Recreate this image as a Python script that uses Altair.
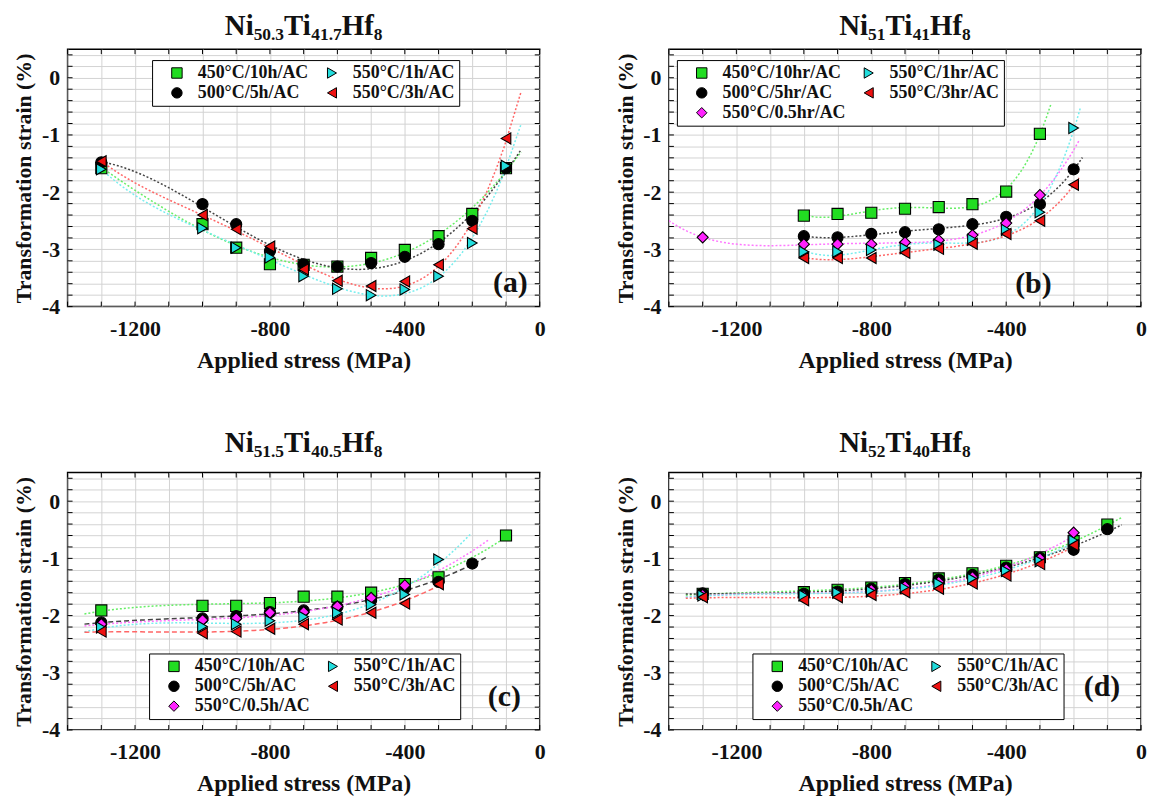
import altair as alt
import pandas as pd

FONT = "Liberation Serif"
W, H = 475, 259

# ---------------- data ----------------
A_X = [-1300, -1000, -900, -800, -700, -600, -500, -400, -300, -200, -100]
A_450 = [-1.58, -2.56, -2.97, -3.26, -3.27, -3.30, -3.15, -3.01, -2.77, -2.38, -1.58]
A_500 = [-1.48, -2.21, -2.56, -3.03, -3.26, -3.30, -3.24, -3.13, -2.91, -2.50, -1.58]
A_550_1 = [-1.60, -2.63, -2.97, -3.14, -3.47, -3.69, -3.80, -3.70, -3.47, -2.89, -1.54]
A_550_3 = [-1.46, -2.40, -2.65, -2.95, -3.35, -3.55, -3.64, -3.56, -3.27, -2.64, -1.06]

B_X_450 = [-1000, -900, -800, -700, -600, -500, -400, -300]
B_450 = [-2.41, -2.38, -2.36, -2.29, -2.26, -2.21, -1.99, -0.98]
B_X_500 = [-1000, -900, -800, -700, -600, -500, -400, -300, -200]
B_500 = [-2.77, -2.79, -2.73, -2.70, -2.65, -2.56, -2.43, -2.21, -1.60]
B_X_550_05 = [-1300, -1000, -900, -800, -700, -600, -500, -400, -300]
B_550_05 = [-2.79, -2.91, -2.91, -2.91, -2.88, -2.84, -2.75, -2.54, -2.05]
B_X_550_1 = [-1000, -900, -800, -700, -600, -500, -400, -300, -200]
B_550_1 = [-3.04, -3.04, -3.01, -2.98, -2.92, -2.83, -2.66, -2.35, -0.88]
B_X_550_3 = [-1000, -900, -800, -700, -600, -500, -400, -300, -200]
B_550_3 = [-3.15, -3.15, -3.15, -3.06, -2.99, -2.90, -2.73, -2.50, -1.87]

C_X_450 = [-1300, -1000, -900, -800, -700, -600, -500, -400, -300, -100]
C_450 = [-1.91, -1.83, -1.83, -1.78, -1.67, -1.67, -1.60, -1.45, -1.33, -0.60]
C_X_500 = [-1300, -1000, -900, -800, -700, -600, -500, -400, -300, -200]
C_500 = [-2.12, -2.05, -2.01, -1.94, -1.91, -1.85, -1.73, -1.52, -1.41, -1.09]
C_X_550_05 = [-1300, -1000, -900, -800, -700, -600, -500, -400]
C_550_05 = [-2.15, -2.08, -2.05, -1.95, -1.94, -1.84, -1.69, -1.47]
C_X_550_1 = [-1300, -1000, -900, -800, -700, -600, -500, -400, -300]
C_550_1 = [-2.21, -2.19, -2.15, -2.09, -2.02, -1.95, -1.81, -1.63, -1.02]
C_X_550_3 = [-1300, -1000, -900, -800, -700, -600, -500, -400, -300]
C_550_3 = [-2.28, -2.31, -2.28, -2.23, -2.15, -2.07, -1.95, -1.79, -1.45]

D_X_450 = [-1300, -1000, -900, -800, -700, -600, -500, -400, -300, -200, -100]
D_450 = [-1.62, -1.59, -1.55, -1.51, -1.43, -1.35, -1.26, -1.13, -0.98, -0.70, -0.41]
D_X_500 = [-1300, -1000, -900, -800, -700, -600, -500, -400, -300, -200, -100]
D_500 = [-1.61, -1.62, -1.58, -1.53, -1.45, -1.37, -1.29, -1.16, -0.99, -0.85, -0.49]
D_X_550 = [-1300, -1000, -900, -800, -700, -600, -500, -400, -300, -200]
D_550_05 = [-1.64, -1.66, -1.62, -1.55, -1.49, -1.41, -1.33, -1.19, -1.00, -0.55]
D_550_1 = [-1.65, -1.65, -1.60, -1.58, -1.52, -1.44, -1.36, -1.22, -1.05, -0.69]
D_550_3 = [-1.68, -1.73, -1.68, -1.64, -1.59, -1.53, -1.44, -1.30, -1.10, -0.77]

LABELS_H = ["450°C/10h/AC", "500°C/5h/AC", "550°C/0.5h/AC", "550°C/1h/AC", "550°C/3h/AC"]
LABELS_HR = ["450°C/10hr/AC", "500°C/5hr/AC", "550°C/0.5hr/AC", "550°C/1hr/AC", "550°C/3hr/AC"]
# titles as (element, subscript) pairs
TITLE_A = [("Ni", "50.3"), ("Ti", "41.7"), ("Hf", "8")]
TITLE_B = [("Ni", "51"), ("Ti", "41"), ("Hf", "8")]
TITLE_C = [("Ni", "51.5"), ("Ti", "40.5"), ("Hf", "8")]
TITLE_D = [("Ni", "52"), ("Ti", "40"), ("Hf", "8")]
PANEL_TAGS = ["(a)", "(b)", "(c)", "(d)"]

X_GRID = [-1400, -1300, -1200, -1100, -1000, -900, -800, -700, -600, -500, -400, -300, -200, -100, 0]
Y_GRID = [-4.0, -3.8, -3.6, -3.4, -3.2, -3.0, -2.8, -2.6, -2.4, -2.2, -2.0, -1.8, -1.6, -1.4,
          -1.2, -1.0, -0.8, -0.6, -0.4, -0.2, 0.0, 0.2, 0.4]

# series styles: index 0..4 = 450, 500, 550/0.5, 550/1, 550/3
SHAPES = ["square", "circle", "diamond", "triangle-right", "triangle-left"]
FILLS = ["#22dd22", "#000000", "#ff22ff", "#22dddd", "#ee1111"]
LINE_COLORS = ["#66ee66", "#444444", "#ff77ff", "#77eeee", "#ff6666"]

# Times-metric glyph widths (em) for title layout
GW = {"N": 0.722, "i": 0.278, "T": 0.667, "H": 0.778, "f": 0.333, ".": 0.25}
for d in "0123456789":
    GW[d] = 0.5
T_BIG, T_SUB = 29, 17.5

xscale = alt.Scale(domain=[-1400, 0], nice=False, zero=False)
yscale = alt.Scale(domain=[-4, 0.5], nice=False, zero=False)

x_label_expr = "datum.value % 400 == 0 ? (datum.value < 0 ? '-' + abs(datum.value) : '' + datum.value) : ''"
y_label_expr = ("abs(datum.value - round(datum.value)) < 0.001 ? "
                "(round(datum.value) < 0 ? '-' + abs(round(datum.value)) : '0') : ''")

xaxis = alt.Axis(values=X_GRID, labelExpr=x_label_expr, title="Applied stress (MPa)",
                 grid=True, gridColor="#d3d3d3", gridWidth=1, ticks=False, domain=False,
                 labelFont=FONT, labelFontSize=22, labelFontWeight="bold", labelColor="#111111",
                 labelPadding=12, labelFlush=False, labelOverlap=False,
                 titleFont=FONT, titleFontSize=24, titleFontWeight="bold", titleColor="#111111",
                 titlePadding=9)
yaxis = alt.Axis(values=Y_GRID, labelExpr=y_label_expr, title="Transformation strain (%)",
                 grid=True, gridColor="#d3d3d3", gridWidth=1, ticks=False, domain=False,
                 labelFont=FONT, labelFontSize=22, labelFontWeight="bold", labelColor="#111111",
                 labelPadding=8, labelOverlap=False, minExtent=26, maxExtent=26,
                 titleFont=FONT, titleFontSize=22, titleFontWeight="bold", titleColor="#111111",
                 titlePadding=6)

X = alt.X("x:Q", scale=xscale, axis=xaxis)
Y = alt.Y("y:Q", scale=yscale, axis=yaxis)


def title_layers(parts, base_y):
    segs = []
    for el, sub in parts:
        segs.append((el, T_BIG, 0))
        segs.append((sub, T_SUB, 5))
    widths = [sum(GW[c] for c in t) * fs for t, fs, _ in segs]
    x0 = W / 2 - sum(widths) / 2
    out = []
    for (t, fs, dy), w in zip(segs, widths):
        out.append(
            alt.Chart(pd.DataFrame({"t": [t]})).mark_text(
                font=FONT, fontSize=fs, fontWeight="bold", align="left",
                baseline="alphabetic", color="#111111")
            .encode(text="t:N", x=alt.value(x0), y=alt.value(base_y + dy))
        )
        x0 += w
    return out


def panel(idx, series, labels, title_parts, title_y, legend_xy, tag_pos, fit_order):
    rows = []
    for (si, xs, ys, ext, dash) in series:
        for xv, yv in zip(xs, ys):
            rows.append({"x": xv, "y": yv, "s": si, "lab": labels[si]})
    present = [s[0] for s in series]
    rows.sort(key=lambda r: r["s"])
    df = pd.DataFrame(rows)

    layers = []
    for (si, xs, ys, ext, dash) in series:
        layers.append(
            alt.Chart(df).transform_filter(alt.datum.s == si)
            .transform_regression("x", "y", method="poly", order=fit_order, extent=ext)
            .mark_line(color=LINE_COLORS[si], strokeDash=dash, strokeWidth=1.5, clip=True)
            .encode(x=X, y=Y)
        )
    order = sorted(present)  # column-major 2-column legend
    dom = [labels[i] for i in order]
    leg = alt.Legend(title=None, orient="none", legendX=legend_xy[0], legendY=legend_xy[1],
                     columns=2, strokeColor="black", fillColor="white", padding=4,
                     labelFont=FONT, labelFontSize=18, labelFontWeight="bold", labelColor="#111111",
                     symbolSize=110, symbolStrokeWidth=1,
                     symbolOffset=12, labelOffset=12, columnPadding=2, rowPadding=2,
                     labelLimit=300)
    layers.append(
        alt.Chart(df).mark_point(filled=True, strokeWidth=1.1, size=125, opacity=1)
        .encode(x=X, y=Y,
                fill=alt.Fill("lab:N", scale=alt.Scale(domain=dom, range=[FILLS[i] for i in order]), legend=leg),
                shape=alt.Shape("lab:N", scale=alt.Scale(domain=dom, range=[SHAPES[i] for i in order]), legend=leg),
                stroke=alt.Stroke("lab:N", scale=alt.Scale(domain=dom, range=["#000000"] * len(dom)), legend=leg))
    )
    ydf = pd.DataFrame({"y": Y_GRID})
    xdf = pd.DataFrame({"x": X_GRID})
    layers.append(alt.Chart(ydf).mark_rule(color="black", strokeWidth=1).encode(y=Y, x=alt.value(0), x2=alt.value(5)))
    layers.append(alt.Chart(ydf).mark_rule(color="black", strokeWidth=1).encode(y=Y, x=alt.value(W - 5), x2=alt.value(W)))
    layers.append(alt.Chart(xdf).mark_rule(color="black", strokeWidth=1).encode(x=X, y=alt.value(0), y2=alt.value(5)))
    layers.append(alt.Chart(xdf).mark_rule(color="black", strokeWidth=1).encode(x=X, y=alt.value(H - 5), y2=alt.value(H)))
    tdf = pd.DataFrame({"t": [PANEL_TAGS[idx]]})
    layers.append(alt.Chart(tdf).mark_text(font=FONT, fontSize=30, fontWeight="bold", align="right",
                                           baseline="alphabetic", color="#111111")
                  .encode(text="t:N", x=alt.value(tag_pos[0]), y=alt.value(tag_pos[1])))
    layers += title_layers(title_parts, title_y)

    return alt.layer(*layers).properties(width=W, height=H)


DOT = [2, 2]
DASH = [5, 3]

pa = panel(0, [
    (0, A_X, A_450, [-1300, -55], DOT),
    (1, A_X, A_500, [-1300, -55], DOT),
    (3, A_X, A_550_1, [-1300, -55], DOT),
    (4, A_X, A_550_3, [-1300, -55], DOT),
], LABELS_H, TITLE_A, -14, (85, 11), (W - 12, H - 15), 4)

pb = panel(1, [
    (0, B_X_450, B_450, [-1000, -267], DOT),
    (1, B_X_500, B_500, [-1000, -174], DOT),
    (2, B_X_550_05, B_550_05, [-1400, -184], DOT),
    (3, B_X_550_1, B_550_1, [-1000, -179], DOT),
    (4, B_X_550_3, B_550_3, [-1000, -184], DOT),
], LABELS_HR, TITLE_B, -14, (8, 11), (W - 90, H - 14), 4)

pc = panel(2, [
    (0, C_X_450, C_450, [-1350, -107], DOT),
    (1, C_X_500, C_500, [-1350, -156], DASH),
    (2, C_X_550_05, C_550_05, [-1350, -151], DOT),
    (3, C_X_550_1, C_550_1, [-1350, -205], DOT),
    (4, C_X_550_3, C_550_3, [-1350, -302], DASH),
], LABELS_H, TITLE_C, -21, (82, 182), (W - 19, H - 24), 3)

pd_ = panel(3, [
    (0, D_X_450, D_450, [-1350, -57], DOT),
    (1, D_X_500, D_500, [-1350, -57], DOT),
    (2, D_X_550, D_550_05, [-1350, -198], DOT),
    (3, D_X_550, D_550_1, [-1350, -198], DOT),
    (4, D_X_550, D_550_3, [-1350, -198], DOT),
], LABELS_H, TITLE_D, -21, (84, 182), (W - 21, H - 34), 3)

RES = dict(fill="independent", shape="independent", stroke="independent")
row1 = alt.hconcat(pa, pb, spacing=67).resolve_scale(**RES).resolve_legend(**RES)
row2 = alt.hconcat(pc, pd_, spacing=67).resolve_scale(**RES).resolve_legend(**RES)

chart = (alt.vconcat(row1, row2, spacing=55)
         .resolve_scale(**RES)
         .resolve_legend(**RES)
         .properties(padding={"left": 12, "top": 9, "right": 5, "bottom": 5}, background="white")
         .configure_view(stroke="black", strokeWidth=1.5))

chart.save("out.html", embed_options={"renderer": "svg", "actions": False})
